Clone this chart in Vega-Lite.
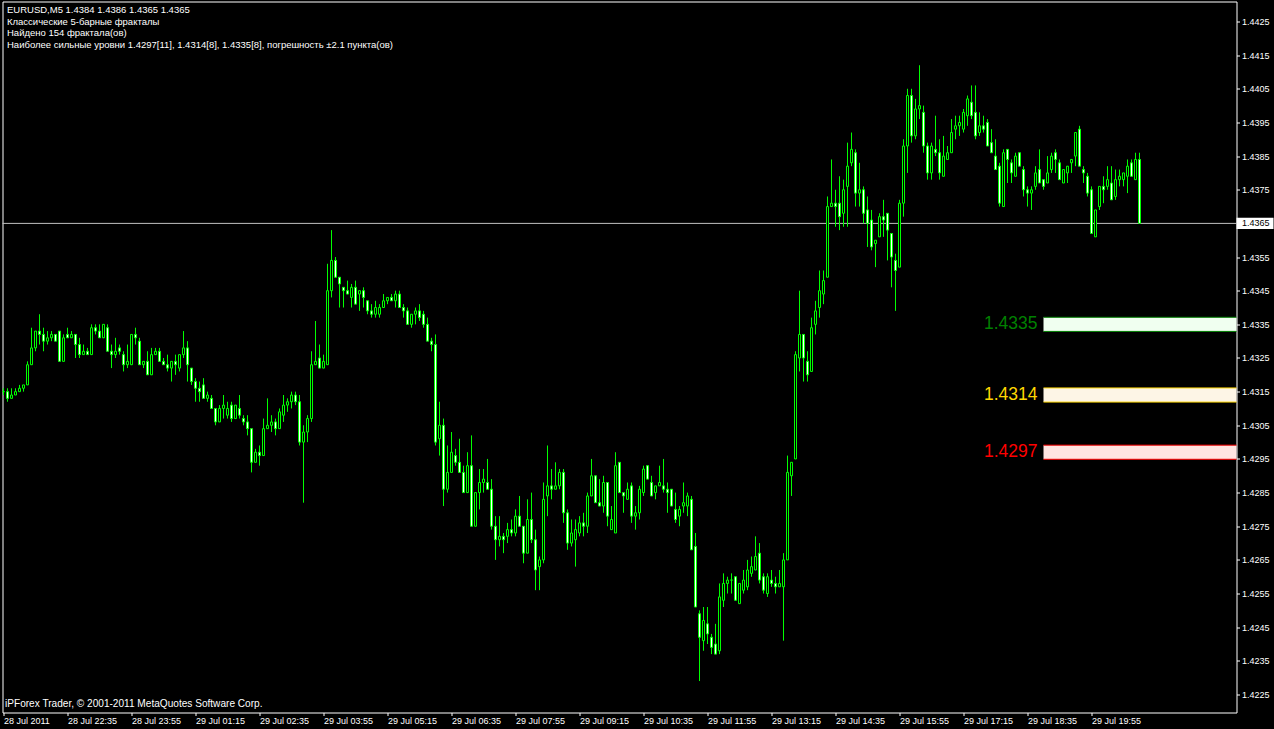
{
"$schema": "https://vega.github.io/schema/vega-lite/v6.json",
"width": 1234, "height": 711,
"autosize": {"type": "none"},
"padding": {"left": 2.5, "top": 1.5, "right": 37.5, "bottom": 16.5},
"background": "#000000",
"config": {"view": {"stroke": "#FFFFFF", "strokeWidth": 1, "fill": "#000000"}, "font": "Liberation Sans", "axis": {"labelOverlap": false}},
"layer": [
{"data": {"values": [{"bid": 1.4365}]},
 "mark": {"type": "rule", "color": "#C0C0C0", "strokeWidth": 1},
 "encoding": {"y": {"field": "bid", "type": "quantitative",
   "scale": {"domain": [1.421965, 1.443094], "zero": false, "nice": false, "padding": 0},
   "axis": {"orient": "right", "values": [1.4225,1.4235,1.4245,1.4255,1.4265,1.4275,1.4285,1.4295,1.4305,1.4315,1.4325,1.4335,1.4345,1.4355,1.4375,1.4385,1.4395,1.4405,1.4415,1.4425],
     "tickCount": 40, "format": ".4f", "domain": false, "grid": false, "tickColor": "#FFFFFF", "tickSize": 3, "labelColor": "#FFFFFF", "labelFont": "Liberation Sans", "labelFontSize": 9, "labelPadding": 2, "labelOverlap": false, "labelFlush": false, "labelBound": false, "title": null}}}},
{"data": {"values": [
  {"name": "1.4335", "level": 1.4335, "lo": 1.43329, "hi": 1.43371, "from": "2011-07-29 18:55", "to": "2011-07-29 23:30"},
  {"name": "1.4314", "level": 1.4314, "lo": 1.43119, "hi": 1.43161, "from": "2011-07-29 18:55", "to": "2011-07-29 23:30"},
  {"name": "1.4297", "level": 1.4297, "lo": 1.42949, "hi": 1.42991, "from": "2011-07-29 18:55", "to": "2011-07-29 23:30"}],
  "format": {"parse": {"from": "utc:'%Y-%m-%d %H:%M'", "to": "utc:'%Y-%m-%d %H:%M'"}}},
 "layer": [
  {"mark": {"type": "rect", "clip": true},
   "encoding": {"x": {"field": "from", "type": "temporal", "scale": {"type": "utc", "padding": 0}}, "x2": {"field": "to"},
     "y": {"field": "lo", "type": "quantitative"}, "y2": {"field": "hi"},
     "fill": {"field": "name", "type": "nominal", "scale": {"domain": ["1.4335", "1.4314", "1.4297"], "range": ["#F0FFF0", "#FDF5E6", "#FFE4E1"]}, "legend": null}}},
  {"transform": [{"fold": ["lo", "hi"], "as": ["edge", "yv"]}],
   "mark": {"type": "rule", "clip": true, "strokeWidth": 1},
   "encoding": {"x": {"field": "from", "type": "temporal", "scale": {"type": "utc", "padding": 0}}, "x2": {"field": "to"},
     "y": {"field": "yv", "type": "quantitative"},
     "color": {"field": "name", "type": "nominal", "scale": {"domain": ["1.4335", "1.4314", "1.4297"], "range": ["#008000", "#FFD700", "#FF0000"]}, "legend": null}}},
  {"mark": {"type": "text", "align": "right", "baseline": "middle", "dx": -6, "fontSize": 17.5, "font": "Liberation Sans"},
   "encoding": {"x": {"field": "from", "type": "temporal", "scale": {"type": "utc", "padding": 0}},
     "y": {"field": "level", "type": "quantitative"},
     "text": {"field": "name"},
     "color": {"field": "name", "type": "nominal", "scale": {"domain": ["1.4335", "1.4314", "1.4297"], "range": ["#008000", "#FFD700", "#FF0000"]}, "legend": null}}}
 ]},
{"data": {"values": [
{"t":"2011-07-28 21:15","o":1.4315,"h":1.4316,"l":1.4314,"c":1.4315},
{"t":"2011-07-28 21:20","o":1.4315,"h":1.4316,"l":1.4312,"c":1.4313},
{"t":"2011-07-28 21:25","o":1.4313,"h":1.4316,"l":1.4313,"c":1.4314},
{"t":"2011-07-28 21:30","o":1.4314,"h":1.4316,"l":1.4314,"c":1.4315},
{"t":"2011-07-28 21:35","o":1.4315,"h":1.4317,"l":1.4315,"c":1.4316},
{"t":"2011-07-28 21:40","o":1.4316,"h":1.4317,"l":1.4315,"c":1.4317},
{"t":"2011-07-28 21:45","o":1.4317,"h":1.4324,"l":1.4317,"c":1.4323},
{"t":"2011-07-28 21:50","o":1.4323,"h":1.4334,"l":1.4323,"c":1.4328},
{"t":"2011-07-28 21:55","o":1.4328,"h":1.4333,"l":1.4327,"c":1.4333},
{"t":"2011-07-28 22:00","o":1.4333,"h":1.4338,"l":1.4329,"c":1.4332},
{"t":"2011-07-28 22:05","o":1.4332,"h":1.4334,"l":1.4327,"c":1.4330},
{"t":"2011-07-28 22:10","o":1.4330,"h":1.4333,"l":1.4329,"c":1.4331},
{"t":"2011-07-28 22:15","o":1.4331,"h":1.4333,"l":1.4330,"c":1.4332},
{"t":"2011-07-28 22:20","o":1.4332,"h":1.4332,"l":1.4330,"c":1.4330},
{"t":"2011-07-28 22:25","o":1.4333,"h":1.4333,"l":1.4324,"c":1.4324},
{"t":"2011-07-28 22:30","o":1.4324,"h":1.4332,"l":1.4324,"c":1.4331},
{"t":"2011-07-28 22:35","o":1.4332,"h":1.4334,"l":1.4331,"c":1.4331},
{"t":"2011-07-28 22:40","o":1.4331,"h":1.4333,"l":1.4331,"c":1.4332},
{"t":"2011-07-28 22:45","o":1.4332,"h":1.4332,"l":1.4325,"c":1.4329},
{"t":"2011-07-28 22:50","o":1.4329,"h":1.4331,"l":1.4325,"c":1.4326},
{"t":"2011-07-28 22:55","o":1.4326,"h":1.4329,"l":1.4326,"c":1.4327},
{"t":"2011-07-28 23:00","o":1.4327,"h":1.4328,"l":1.4326,"c":1.4326},
{"t":"2011-07-28 23:05","o":1.4326,"h":1.4335,"l":1.4326,"c":1.4334},
{"t":"2011-07-28 23:10","o":1.4334,"h":1.4335,"l":1.4332,"c":1.4333},
{"t":"2011-07-28 23:15","o":1.4333,"h":1.4335,"l":1.4331,"c":1.4331},
{"t":"2011-07-28 23:20","o":1.4331,"h":1.4335,"l":1.4331,"c":1.4335},
{"t":"2011-07-28 23:25","o":1.4334,"h":1.4335,"l":1.4327,"c":1.4327},
{"t":"2011-07-28 23:30","o":1.4327,"h":1.4329,"l":1.4322,"c":1.4326},
{"t":"2011-07-28 23:35","o":1.4326,"h":1.4331,"l":1.4325,"c":1.4327},
{"t":"2011-07-28 23:40","o":1.4328,"h":1.4329,"l":1.4326,"c":1.4327},
{"t":"2011-07-28 23:45","o":1.4326,"h":1.4327,"l":1.4321,"c":1.4323},
{"t":"2011-07-28 23:50","o":1.4323,"h":1.4329,"l":1.4322,"c":1.4324},
{"t":"2011-07-28 23:55","o":1.4323,"h":1.4332,"l":1.4323,"c":1.4332},
{"t":"2011-07-29 00:00","o":1.4332,"h":1.4334,"l":1.4329,"c":1.4331},
{"t":"2011-07-29 00:05","o":1.4330,"h":1.4331,"l":1.4323,"c":1.4323},
{"t":"2011-07-29 00:10","o":1.4323,"h":1.4324,"l":1.4322,"c":1.4324},
{"t":"2011-07-29 00:15","o":1.4324,"h":1.4327,"l":1.4320,"c":1.4320},
{"t":"2011-07-29 00:20","o":1.4320,"h":1.4328,"l":1.4320,"c":1.4326},
{"t":"2011-07-29 00:25","o":1.4326,"h":1.4328,"l":1.4326,"c":1.4327},
{"t":"2011-07-29 00:30","o":1.4327,"h":1.4328,"l":1.4324,"c":1.4324},
{"t":"2011-07-29 00:35","o":1.4324,"h":1.4325,"l":1.4323,"c":1.4323},
{"t":"2011-07-29 00:40","o":1.4323,"h":1.4326,"l":1.4321,"c":1.4322},
{"t":"2011-07-29 00:45","o":1.4322,"h":1.4324,"l":1.4318,"c":1.4324},
{"t":"2011-07-29 00:50","o":1.4324,"h":1.4326,"l":1.4320,"c":1.4323},
{"t":"2011-07-29 00:55","o":1.4322,"h":1.4326,"l":1.4321,"c":1.4326},
{"t":"2011-07-29 01:00","o":1.4326,"h":1.4333,"l":1.4325,"c":1.4328},
{"t":"2011-07-29 01:05","o":1.4328,"h":1.4330,"l":1.4318,"c":1.4323},
{"t":"2011-07-29 01:10","o":1.4322,"h":1.4322,"l":1.4317,"c":1.4318},
{"t":"2011-07-29 01:15","o":1.4318,"h":1.4319,"l":1.4312,"c":1.4316},
{"t":"2011-07-29 01:20","o":1.4316,"h":1.4318,"l":1.4312,"c":1.4315},
{"t":"2011-07-29 01:25","o":1.4317,"h":1.4319,"l":1.4313,"c":1.4313},
{"t":"2011-07-29 01:30","o":1.4313,"h":1.4315,"l":1.4312,"c":1.4314},
{"t":"2011-07-29 01:35","o":1.4313,"h":1.4314,"l":1.4310,"c":1.4310},
{"t":"2011-07-29 01:40","o":1.4310,"h":1.4310,"l":1.4305,"c":1.4306},
{"t":"2011-07-29 01:45","o":1.4306,"h":1.4311,"l":1.4306,"c":1.4310},
{"t":"2011-07-29 01:50","o":1.4310,"h":1.4314,"l":1.4307,"c":1.4311},
{"t":"2011-07-29 01:55","o":1.4308,"h":1.4312,"l":1.4307,"c":1.4310},
{"t":"2011-07-29 02:00","o":1.4311,"h":1.4312,"l":1.4306,"c":1.4307},
{"t":"2011-07-29 02:05","o":1.4307,"h":1.4311,"l":1.4307,"c":1.4311},
{"t":"2011-07-29 02:10","o":1.4310,"h":1.4314,"l":1.4307,"c":1.4308},
{"t":"2011-07-29 02:15","o":1.4307,"h":1.4308,"l":1.4305,"c":1.4306},
{"t":"2011-07-29 02:20","o":1.4306,"h":1.4308,"l":1.4302,"c":1.4304},
{"t":"2011-07-29 02:25","o":1.4304,"h":1.4304,"l":1.4291,"c":1.4294},
{"t":"2011-07-29 02:30","o":1.4294,"h":1.4298,"l":1.4294,"c":1.4297},
{"t":"2011-07-29 02:35","o":1.4297,"h":1.4299,"l":1.4293,"c":1.4296},
{"t":"2011-07-29 02:40","o":1.4296,"h":1.4307,"l":1.4296,"c":1.4304},
{"t":"2011-07-29 02:45","o":1.4304,"h":1.4313,"l":1.4304,"c":1.4305},
{"t":"2011-07-29 02:50","o":1.4305,"h":1.4308,"l":1.4303,"c":1.4306},
{"t":"2011-07-29 02:55","o":1.4306,"h":1.4307,"l":1.4302,"c":1.4304},
{"t":"2011-07-29 03:00","o":1.4304,"h":1.4310,"l":1.4304,"c":1.4309},
{"t":"2011-07-29 03:05","o":1.4308,"h":1.4314,"l":1.4306,"c":1.4311},
{"t":"2011-07-29 03:10","o":1.4311,"h":1.4313,"l":1.4309,"c":1.4312},
{"t":"2011-07-29 03:15","o":1.4312,"h":1.4315,"l":1.4310,"c":1.4314},
{"t":"2011-07-29 03:20","o":1.4314,"h":1.4315,"l":1.4311,"c":1.4312},
{"t":"2011-07-29 03:25","o":1.4312,"h":1.4314,"l":1.4299,"c":1.4300},
{"t":"2011-07-29 03:30","o":1.4300,"h":1.4305,"l":1.4282,"c":1.4303},
{"t":"2011-07-29 03:35","o":1.4303,"h":1.4308,"l":1.4300,"c":1.4307},
{"t":"2011-07-29 03:40","o":1.4307,"h":1.4327,"l":1.4306,"c":1.4323},
{"t":"2011-07-29 03:45","o":1.4323,"h":1.4336,"l":1.4323,"c":1.4324},
{"t":"2011-07-29 03:50","o":1.4325,"h":1.4329,"l":1.4322,"c":1.4322},
{"t":"2011-07-29 03:55","o":1.4322,"h":1.4326,"l":1.4322,"c":1.4324},
{"t":"2011-07-29 04:00","o":1.4323,"h":1.4353,"l":1.4323,"c":1.4345},
{"t":"2011-07-29 04:05","o":1.4345,"h":1.4363,"l":1.4343,"c":1.4354},
{"t":"2011-07-29 04:10","o":1.4354,"h":1.4355,"l":1.4349,"c":1.4349},
{"t":"2011-07-29 04:15","o":1.4349,"h":1.4349,"l":1.4340,"c":1.4347},
{"t":"2011-07-29 04:20","o":1.4346,"h":1.4346,"l":1.4340,"c":1.4345},
{"t":"2011-07-29 04:25","o":1.4345,"h":1.4348,"l":1.4344,"c":1.4344},
{"t":"2011-07-29 04:30","o":1.4343,"h":1.4347,"l":1.4340,"c":1.4346},
{"t":"2011-07-29 04:35","o":1.4346,"h":1.4348,"l":1.4341,"c":1.4341},
{"t":"2011-07-29 04:40","o":1.4344,"h":1.4345,"l":1.4339,"c":1.4345},
{"t":"2011-07-29 04:45","o":1.4345,"h":1.4346,"l":1.4340,"c":1.4343},
{"t":"2011-07-29 04:50","o":1.4342,"h":1.4342,"l":1.4338,"c":1.4339},
{"t":"2011-07-29 04:55","o":1.4339,"h":1.4341,"l":1.4337,"c":1.4338},
{"t":"2011-07-29 05:00","o":1.4338,"h":1.4342,"l":1.4337,"c":1.4340},
{"t":"2011-07-29 05:05","o":1.4338,"h":1.4341,"l":1.4337,"c":1.4340},
{"t":"2011-07-29 05:10","o":1.4340,"h":1.4344,"l":1.4340,"c":1.4342},
{"t":"2011-07-29 05:15","o":1.4342,"h":1.4343,"l":1.4341,"c":1.4343},
{"t":"2011-07-29 05:20","o":1.4343,"h":1.4344,"l":1.4342,"c":1.4342},
{"t":"2011-07-29 05:25","o":1.4342,"h":1.4345,"l":1.4340,"c":1.4344},
{"t":"2011-07-29 05:30","o":1.4344,"h":1.4345,"l":1.4340,"c":1.4340},
{"t":"2011-07-29 05:35","o":1.4340,"h":1.4341,"l":1.4337,"c":1.4339},
{"t":"2011-07-29 05:40","o":1.4339,"h":1.4340,"l":1.4335,"c":1.4335},
{"t":"2011-07-29 05:45","o":1.4335,"h":1.4338,"l":1.4334,"c":1.4338},
{"t":"2011-07-29 05:50","o":1.4338,"h":1.4340,"l":1.4335,"c":1.4339},
{"t":"2011-07-29 05:55","o":1.4339,"h":1.4341,"l":1.4336,"c":1.4337},
{"t":"2011-07-29 06:00","o":1.4338,"h":1.4339,"l":1.4334,"c":1.4335},
{"t":"2011-07-29 06:05","o":1.4335,"h":1.4337,"l":1.4330,"c":1.4330},
{"t":"2011-07-29 06:10","o":1.4330,"h":1.4331,"l":1.4327,"c":1.4329},
{"t":"2011-07-29 06:15","o":1.4329,"h":1.4332,"l":1.4299,"c":1.4300},
{"t":"2011-07-29 06:20","o":1.4301,"h":1.4312,"l":1.4296,"c":1.4305},
{"t":"2011-07-29 06:25","o":1.4305,"h":1.4307,"l":1.4281,"c":1.4286},
{"t":"2011-07-29 06:30","o":1.4286,"h":1.4299,"l":1.4285,"c":1.4291},
{"t":"2011-07-29 06:35","o":1.4291,"h":1.4303,"l":1.4291,"c":1.4297},
{"t":"2011-07-29 06:40","o":1.4296,"h":1.4298,"l":1.4293,"c":1.4294},
{"t":"2011-07-29 06:45","o":1.4294,"h":1.4301,"l":1.4291,"c":1.4291},
{"t":"2011-07-29 06:50","o":1.4291,"h":1.4293,"l":1.4285,"c":1.4285},
{"t":"2011-07-29 06:55","o":1.4285,"h":1.4297,"l":1.4285,"c":1.4293},
{"t":"2011-07-29 07:00","o":1.4293,"h":1.4302,"l":1.4275,"c":1.4275},
{"t":"2011-07-29 07:05","o":1.4275,"h":1.4285,"l":1.4275,"c":1.4285},
{"t":"2011-07-29 07:10","o":1.4285,"h":1.4292,"l":1.4280,"c":1.4288},
{"t":"2011-07-29 07:15","o":1.4288,"h":1.4292,"l":1.4285,"c":1.4289},
{"t":"2011-07-29 07:20","o":1.4288,"h":1.4295,"l":1.4286,"c":1.4286},
{"t":"2011-07-29 07:25","o":1.4286,"h":1.4289,"l":1.4274,"c":1.4275},
{"t":"2011-07-29 07:30","o":1.4275,"h":1.4278,"l":1.4265,"c":1.4271},
{"t":"2011-07-29 07:35","o":1.4271,"h":1.4278,"l":1.4269,"c":1.4272},
{"t":"2011-07-29 07:40","o":1.4272,"h":1.4273,"l":1.4267,"c":1.4271},
{"t":"2011-07-29 07:45","o":1.4272,"h":1.4276,"l":1.4270,"c":1.4274},
{"t":"2011-07-29 07:50","o":1.4274,"h":1.4277,"l":1.4272,"c":1.4273},
{"t":"2011-07-29 07:55","o":1.4273,"h":1.4280,"l":1.4272,"c":1.4278},
{"t":"2011-07-29 08:00","o":1.4278,"h":1.4284,"l":1.4275,"c":1.4275},
{"t":"2011-07-29 08:05","o":1.4275,"h":1.4275,"l":1.4264,"c":1.4267},
{"t":"2011-07-29 08:10","o":1.4267,"h":1.4283,"l":1.4267,"c":1.4277},
{"t":"2011-07-29 08:15","o":1.4277,"h":1.4285,"l":1.4270,"c":1.4271},
{"t":"2011-07-29 08:20","o":1.4271,"h":1.4274,"l":1.4256,"c":1.4262},
{"t":"2011-07-29 08:25","o":1.4263,"h":1.4266,"l":1.4256,"c":1.4265},
{"t":"2011-07-29 08:30","o":1.4265,"h":1.4288,"l":1.4264,"c":1.4283},
{"t":"2011-07-29 08:35","o":1.4284,"h":1.4299,"l":1.4278,"c":1.4287},
{"t":"2011-07-29 08:40","o":1.4287,"h":1.4292,"l":1.4283,"c":1.4286},
{"t":"2011-07-29 08:45","o":1.4286,"h":1.4294,"l":1.4286,"c":1.4287},
{"t":"2011-07-29 08:50","o":1.4287,"h":1.4292,"l":1.4286,"c":1.4291},
{"t":"2011-07-29 08:55","o":1.4291,"h":1.4292,"l":1.4276,"c":1.4279},
{"t":"2011-07-29 09:00","o":1.4279,"h":1.4280,"l":1.4268,"c":1.4270},
{"t":"2011-07-29 09:05","o":1.4270,"h":1.4277,"l":1.4269,"c":1.4273},
{"t":"2011-07-29 09:10","o":1.4271,"h":1.4277,"l":1.4263,"c":1.4274},
{"t":"2011-07-29 09:15","o":1.4273,"h":1.4278,"l":1.4272,"c":1.4276},
{"t":"2011-07-29 09:20","o":1.4276,"h":1.4279,"l":1.4272,"c":1.4275},
{"t":"2011-07-29 09:25","o":1.4275,"h":1.4285,"l":1.4273,"c":1.4284},
{"t":"2011-07-29 09:30","o":1.4284,"h":1.4295,"l":1.4284,"c":1.4290},
{"t":"2011-07-29 09:35","o":1.4290,"h":1.4290,"l":1.4282,"c":1.4282},
{"t":"2011-07-29 09:40","o":1.4282,"h":1.4289,"l":1.4281,"c":1.4281},
{"t":"2011-07-29 09:45","o":1.4281,"h":1.4290,"l":1.4279,"c":1.4288},
{"t":"2011-07-29 09:50","o":1.4288,"h":1.4288,"l":1.4275,"c":1.4278},
{"t":"2011-07-29 09:55","o":1.4274,"h":1.4281,"l":1.4274,"c":1.4277},
{"t":"2011-07-29 10:00","o":1.4273,"h":1.4297,"l":1.4273,"c":1.4293},
{"t":"2011-07-29 10:05","o":1.4294,"h":1.4294,"l":1.4285,"c":1.4285},
{"t":"2011-07-29 10:10","o":1.4285,"h":1.4285,"l":1.4279,"c":1.4284},
{"t":"2011-07-29 10:15","o":1.4283,"h":1.4288,"l":1.4283,"c":1.4286},
{"t":"2011-07-29 10:20","o":1.4287,"h":1.4288,"l":1.4276,"c":1.4278},
{"t":"2011-07-29 10:25","o":1.4278,"h":1.4281,"l":1.4274,"c":1.4279},
{"t":"2011-07-29 10:30","o":1.4279,"h":1.4287,"l":1.4277,"c":1.4286},
{"t":"2011-07-29 10:35","o":1.4285,"h":1.4293,"l":1.4284,"c":1.4292},
{"t":"2011-07-29 10:40","o":1.4293,"h":1.4293,"l":1.4289,"c":1.4289},
{"t":"2011-07-29 10:45","o":1.4288,"h":1.4290,"l":1.4284,"c":1.4284},
{"t":"2011-07-29 10:50","o":1.4285,"h":1.4287,"l":1.4283,"c":1.4287},
{"t":"2011-07-29 10:55","o":1.4287,"h":1.4293,"l":1.4287,"c":1.4288},
{"t":"2011-07-29 11:00","o":1.4287,"h":1.4295,"l":1.4285,"c":1.4286},
{"t":"2011-07-29 11:05","o":1.4286,"h":1.4288,"l":1.4279,"c":1.4285},
{"t":"2011-07-29 11:10","o":1.4286,"h":1.4286,"l":1.4281,"c":1.4281},
{"t":"2011-07-29 11:15","o":1.4280,"h":1.4285,"l":1.4276,"c":1.4277},
{"t":"2011-07-29 11:20","o":1.4278,"h":1.4281,"l":1.4275,"c":1.4280},
{"t":"2011-07-29 11:25","o":1.4281,"h":1.4288,"l":1.4279,"c":1.4282},
{"t":"2011-07-29 11:30","o":1.4281,"h":1.4285,"l":1.4278,"c":1.4284},
{"t":"2011-07-29 11:35","o":1.4283,"h":1.4284,"l":1.4268,"c":1.4268},
{"t":"2011-07-29 11:40","o":1.4269,"h":1.4273,"l":1.4251,"c":1.4251},
{"t":"2011-07-29 11:45","o":1.4249,"h":1.4250,"l":1.4229,"c":1.4242},
{"t":"2011-07-29 11:50","o":1.4241,"h":1.4251,"l":1.4238,"c":1.4247},
{"t":"2011-07-29 11:55","o":1.4246,"h":1.4251,"l":1.4240,"c":1.4243},
{"t":"2011-07-29 12:00","o":1.4242,"h":1.4243,"l":1.4237,"c":1.4239},
{"t":"2011-07-29 12:05","o":1.4240,"h":1.4246,"l":1.4237,"c":1.4237},
{"t":"2011-07-29 12:10","o":1.4238,"h":1.4258,"l":1.4237,"c":1.4254},
{"t":"2011-07-29 12:15","o":1.4253,"h":1.4261,"l":1.4251,"c":1.4258},
{"t":"2011-07-29 12:20","o":1.4258,"h":1.4260,"l":1.4255,"c":1.4259},
{"t":"2011-07-29 12:25","o":1.4259,"h":1.4261,"l":1.4255,"c":1.4259},
{"t":"2011-07-29 12:30","o":1.4260,"h":1.4260,"l":1.4253,"c":1.4253},
{"t":"2011-07-29 12:35","o":1.4252,"h":1.4258,"l":1.4252,"c":1.4258},
{"t":"2011-07-29 12:40","o":1.4256,"h":1.4262,"l":1.4255,"c":1.4259},
{"t":"2011-07-29 12:45","o":1.4257,"h":1.4265,"l":1.4256,"c":1.4262},
{"t":"2011-07-29 12:50","o":1.4261,"h":1.4266,"l":1.4260,"c":1.4263},
{"t":"2011-07-29 12:55","o":1.4262,"h":1.4272,"l":1.4262,"c":1.4266},
{"t":"2011-07-29 13:00","o":1.4267,"h":1.4270,"l":1.4258,"c":1.4259},
{"t":"2011-07-29 13:05","o":1.4260,"h":1.4261,"l":1.4255,"c":1.4256},
{"t":"2011-07-29 13:10","o":1.4255,"h":1.4261,"l":1.4254,"c":1.4260},
{"t":"2011-07-29 13:15","o":1.4259,"h":1.4262,"l":1.4257,"c":1.4258},
{"t":"2011-07-29 13:20","o":1.4258,"h":1.4260,"l":1.4255,"c":1.4257},
{"t":"2011-07-29 13:25","o":1.4257,"h":1.4262,"l":1.4257,"c":1.4258},
{"t":"2011-07-29 13:30","o":1.4257,"h":1.4267,"l":1.4241,"c":1.4265},
{"t":"2011-07-29 13:35","o":1.4265,"h":1.4296,"l":1.4265,"c":1.4291},
{"t":"2011-07-29 13:40","o":1.4290,"h":1.4294,"l":1.4284,"c":1.4294},
{"t":"2011-07-29 13:45","o":1.4295,"h":1.4327,"l":1.4295,"c":1.4326},
{"t":"2011-07-29 13:50","o":1.4325,"h":1.4345,"l":1.4321,"c":1.4332},
{"t":"2011-07-29 13:55","o":1.4332,"h":1.4332,"l":1.4318,"c":1.4325},
{"t":"2011-07-29 14:00","o":1.4324,"h":1.4327,"l":1.4318,"c":1.4320},
{"t":"2011-07-29 14:05","o":1.4321,"h":1.4337,"l":1.4321,"c":1.4334},
{"t":"2011-07-29 14:10","o":1.4335,"h":1.4342,"l":1.4332,"c":1.4339},
{"t":"2011-07-29 14:15","o":1.4340,"h":1.4351,"l":1.4337,"c":1.4345},
{"t":"2011-07-29 14:20","o":1.4344,"h":1.4351,"l":1.4341,"c":1.4348},
{"t":"2011-07-29 14:25","o":1.4349,"h":1.4373,"l":1.4349,"c":1.4370},
{"t":"2011-07-29 14:30","o":1.4370,"h":1.4384,"l":1.4370,"c":1.4371},
{"t":"2011-07-29 14:35","o":1.4371,"h":1.4375,"l":1.4364,"c":1.4370},
{"t":"2011-07-29 14:40","o":1.4371,"h":1.4379,"l":1.4363,"c":1.4367},
{"t":"2011-07-29 14:45","o":1.4368,"h":1.4378,"l":1.4364,"c":1.4375},
{"t":"2011-07-29 14:50","o":1.4376,"h":1.4389,"l":1.4364,"c":1.4382},
{"t":"2011-07-29 14:55","o":1.4383,"h":1.4392,"l":1.4382,"c":1.4387},
{"t":"2011-07-29 15:00","o":1.4386,"h":1.4387,"l":1.4370,"c":1.4374},
{"t":"2011-07-29 15:05","o":1.4374,"h":1.4383,"l":1.4370,"c":1.4375},
{"t":"2011-07-29 15:10","o":1.4375,"h":1.4376,"l":1.4365,"c":1.4368},
{"t":"2011-07-29 15:15","o":1.4369,"h":1.4373,"l":1.4358,"c":1.4365},
{"t":"2011-07-29 15:20","o":1.4366,"h":1.4369,"l":1.4357,"c":1.4358},
{"t":"2011-07-29 15:25","o":1.4359,"h":1.4360,"l":1.4352,"c":1.4360},
{"t":"2011-07-29 15:30","o":1.4361,"h":1.4368,"l":1.4361,"c":1.4367},
{"t":"2011-07-29 15:35","o":1.4367,"h":1.4372,"l":1.4361,"c":1.4366},
{"t":"2011-07-29 15:40","o":1.4368,"h":1.4368,"l":1.4354,"c":1.4363},
{"t":"2011-07-29 15:45","o":1.4362,"h":1.4362,"l":1.4346,"c":1.4355},
{"t":"2011-07-29 15:50","o":1.4354,"h":1.4356,"l":1.4339,"c":1.4351},
{"t":"2011-07-29 15:55","o":1.4352,"h":1.4372,"l":1.4352,"c":1.4371},
{"t":"2011-07-29 16:00","o":1.4371,"h":1.4390,"l":1.4367,"c":1.4388},
{"t":"2011-07-29 16:05","o":1.4388,"h":1.4405,"l":1.4380,"c":1.4403},
{"t":"2011-07-29 16:10","o":1.4403,"h":1.4405,"l":1.4389,"c":1.4391},
{"t":"2011-07-29 16:15","o":1.4391,"h":1.4402,"l":1.4390,"c":1.4399},
{"t":"2011-07-29 16:20","o":1.4399,"h":1.4412,"l":1.4396,"c":1.4400},
{"t":"2011-07-29 16:25","o":1.4398,"h":1.4400,"l":1.4386,"c":1.4388},
{"t":"2011-07-29 16:30","o":1.4388,"h":1.4389,"l":1.4378,"c":1.4380},
{"t":"2011-07-29 16:35","o":1.4380,"h":1.4389,"l":1.4378,"c":1.4388},
{"t":"2011-07-29 16:40","o":1.4387,"h":1.4397,"l":1.4385,"c":1.4386},
{"t":"2011-07-29 16:45","o":1.4386,"h":1.4390,"l":1.4378,"c":1.4380},
{"t":"2011-07-29 16:50","o":1.4379,"h":1.4391,"l":1.4379,"c":1.4385},
{"t":"2011-07-29 16:55","o":1.4384,"h":1.4388,"l":1.4384,"c":1.4386},
{"t":"2011-07-29 17:00","o":1.4386,"h":1.4396,"l":1.4386,"c":1.4392},
{"t":"2011-07-29 17:05","o":1.4393,"h":1.4397,"l":1.4390,"c":1.4394},
{"t":"2011-07-29 17:10","o":1.4394,"h":1.4397,"l":1.4391,"c":1.4395},
{"t":"2011-07-29 17:15","o":1.4393,"h":1.4399,"l":1.4392,"c":1.4398},
{"t":"2011-07-29 17:20","o":1.4397,"h":1.4403,"l":1.4394,"c":1.4402},
{"t":"2011-07-29 17:25","o":1.4401,"h":1.4406,"l":1.4396,"c":1.4397},
{"t":"2011-07-29 17:30","o":1.4398,"h":1.4406,"l":1.4390,"c":1.4391},
{"t":"2011-07-29 17:35","o":1.4392,"h":1.4398,"l":1.4391,"c":1.4394},
{"t":"2011-07-29 17:40","o":1.4394,"h":1.4397,"l":1.4392,"c":1.4393},
{"t":"2011-07-29 17:45","o":1.4395,"h":1.4396,"l":1.4388,"c":1.4388},
{"t":"2011-07-29 17:50","o":1.4389,"h":1.4393,"l":1.4386,"c":1.4386},
{"t":"2011-07-29 17:55","o":1.4385,"h":1.4390,"l":1.4381,"c":1.4381},
{"t":"2011-07-29 18:00","o":1.4382,"h":1.4383,"l":1.4370,"c":1.4371},
{"t":"2011-07-29 18:05","o":1.4370,"h":1.4387,"l":1.4370,"c":1.4386},
{"t":"2011-07-29 18:10","o":1.4387,"h":1.4387,"l":1.4377,"c":1.4384},
{"t":"2011-07-29 18:15","o":1.4383,"h":1.4384,"l":1.4377,"c":1.4380},
{"t":"2011-07-29 18:20","o":1.4379,"h":1.4386,"l":1.4379,"c":1.4385},
{"t":"2011-07-29 18:25","o":1.4386,"h":1.4386,"l":1.4382,"c":1.4382},
{"t":"2011-07-29 18:30","o":1.4381,"h":1.4382,"l":1.4373,"c":1.4375},
{"t":"2011-07-29 18:35","o":1.4375,"h":1.4376,"l":1.4370,"c":1.4374},
{"t":"2011-07-29 18:40","o":1.4374,"h":1.4376,"l":1.4369,"c":1.4375},
{"t":"2011-07-29 18:45","o":1.4376,"h":1.4382,"l":1.4375,"c":1.4380},
{"t":"2011-07-29 18:50","o":1.4381,"h":1.4387,"l":1.4377,"c":1.4377},
{"t":"2011-07-29 18:55","o":1.4378,"h":1.4378,"l":1.4375,"c":1.4376},
{"t":"2011-07-29 19:00","o":1.4377,"h":1.4385,"l":1.4377,"c":1.4380},
{"t":"2011-07-29 19:05","o":1.4381,"h":1.4386,"l":1.4380,"c":1.4385},
{"t":"2011-07-29 19:10","o":1.4386,"h":1.4387,"l":1.4380,"c":1.4384},
{"t":"2011-07-29 19:15","o":1.4383,"h":1.4384,"l":1.4378,"c":1.4378},
{"t":"2011-07-29 19:20","o":1.4377,"h":1.4381,"l":1.4377,"c":1.4381},
{"t":"2011-07-29 19:25","o":1.4380,"h":1.4382,"l":1.4377,"c":1.4382},
{"t":"2011-07-29 19:30","o":1.4383,"h":1.4384,"l":1.4380,"c":1.4384},
{"t":"2011-07-29 19:35","o":1.4385,"h":1.4392,"l":1.4382,"c":1.4392},
{"t":"2011-07-29 19:40","o":1.4393,"h":1.4394,"l":1.4382,"c":1.4382},
{"t":"2011-07-29 19:45","o":1.4381,"h":1.4382,"l":1.4377,"c":1.4380},
{"t":"2011-07-29 19:50","o":1.4379,"h":1.4380,"l":1.4373,"c":1.4374},
{"t":"2011-07-29 19:55","o":1.4375,"h":1.4376,"l":1.4362,"c":1.4362},
{"t":"2011-07-29 20:00","o":1.4361,"h":1.4369,"l":1.4361,"c":1.4369},
{"t":"2011-07-29 20:05","o":1.4370,"h":1.4376,"l":1.4369,"c":1.4376},
{"t":"2011-07-29 20:10","o":1.4376,"h":1.4379,"l":1.4371,"c":1.4375},
{"t":"2011-07-29 20:15","o":1.4376,"h":1.4382,"l":1.4375,"c":1.4378},
{"t":"2011-07-29 20:20","o":1.4377,"h":1.4382,"l":1.4372,"c":1.4372},
{"t":"2011-07-29 20:25","o":1.4373,"h":1.4381,"l":1.4372,"c":1.4378},
{"t":"2011-07-29 20:30","o":1.4378,"h":1.4381,"l":1.4376,"c":1.4379},
{"t":"2011-07-29 20:35","o":1.4378,"h":1.4380,"l":1.4376,"c":1.4380},
{"t":"2011-07-29 20:40","o":1.4379,"h":1.4384,"l":1.4374,"c":1.4382},
{"t":"2011-07-29 20:45","o":1.4383,"h":1.4384,"l":1.4379,"c":1.4379},
{"t":"2011-07-29 20:50","o":1.4378,"h":1.4386,"l":1.4378,"c":1.4384},
{"t":"2011-07-29 20:55","o":1.4384,"h":1.4386,"l":1.4365,"c":1.4365}
 ], "format": {"parse": {"t": "utc:'%Y-%m-%d %H:%M'"}}},
 "layer": [
  {"mark": {"type": "rule", "color": "#00FF00", "strokeWidth": 1},
   "encoding": {"x": {"field": "t", "type": "temporal",
       "scale": {"type": "utc", "padding": 0, "nice": false, "domain": [{"year": 2011, "month": "Jul", "date": 28, "hours": 21, "minutes": 13, "seconds": 45, "utc": true}, {"year": 2011, "month": "Jul", "date": 29, "hours": 22, "minutes": 56, "seconds": 15, "utc": true}]},
       "axis": {"orient": "bottom", "values": [1311887700000,1311892500000,1311897300000,1311902100000,1311906900000,1311911700000,1311916500000,1311921300000,1311926100000,1311930900000,1311935700000,1311940500000,1311945300000,1311950100000,1311954900000,1311959700000,1311964500000,1311969300000],
         "tickCount": 40, "labelExpr": "time(datum.value) < 1311888000000 ? '28 Jul 2011' : utcFormat(datum.value, '%d %b %H:%M')",
         "domain": false, "grid": false, "tickColor": "#FFFFFF", "tickSize": 3, "labelColor": "#FFFFFF", "labelFont": "Liberation Sans", "labelFontSize": 9, "labelAlign": "left", "labelPadding": 1, "labelOverlap": false, "labelFlush": false, "labelBound": false, "title": null}},
     "y": {"field": "l", "type": "quantitative"}, "y2": {"field": "h"}}},
  {"mark": {"type": "bar", "width": 2, "stroke": "#00FF00", "strokeWidth": 1},
   "encoding": {"x": {"field": "t", "type": "temporal", "scale": {"type": "utc", "padding": 0}},
     "y": {"field": "o", "type": "quantitative"}, "y2": {"field": "c"},
     "fill": {"condition": {"test": "datum.c >= datum.o", "value": "#000000"}, "value": "#FFFFFF"}}}
 ]},
{"data": {"values": [{"txt": "EURUSD,M5  1.4384 1.4386 1.4365 1.4365\nКлассические 5-барные фракталы\nНайдено 154 фрактала(ов)\nНаиболее сильные уровни 1.4297[11], 1.4314[8], 1.4335[8], погрешность ±2.1 пункта(ов)"}]},
 "mark": {"type": "text", "align": "left", "baseline": "top", "lineBreak": "\n", "lineHeight": 11.5, "color": "#FFFFFF", "font": "Liberation Sans", "fontSize": 9.5, "dx": 4.5, "dy": 3.5},
 "encoding": {"text": {"field": "txt"},
   "x": {"datum": {"year": 2011, "month": "Jul", "date": 28, "hours": 21, "minutes": 13, "seconds": 45, "utc": true}, "type": "temporal", "scale": {"type": "utc", "padding": 0}},
   "y": {"datum": 1.443094, "type": "quantitative"}}},
{"data": {"values": [{"txt": "iPForex Trader, © 2001-2011 MetaQuotes Software Corp."}]},
 "mark": {"type": "text", "align": "left", "baseline": "bottom", "color": "#FFFFFF", "font": "Liberation Sans", "fontSize": 10.1, "dx": 2.5, "dy": -4},
 "encoding": {"text": {"field": "txt"},
   "x": {"datum": {"year": 2011, "month": "Jul", "date": 28, "hours": 21, "minutes": 13, "seconds": 45, "utc": true}, "type": "temporal", "scale": {"type": "utc", "padding": 0}},
   "y": {"datum": 1.421965, "type": "quantitative"}}},
{"data": {"values": [{"bid": 1.4365, "txt": "1.4365"}]},
 "layer": [
  {"mark": {"type": "point", "shape": "M0,-0.3H2V0.3H0Z", "size": 1369, "filled": true, "color": "#FFFFFF", "opacity": 1, "strokeWidth": 0},
   "encoding": {"x": {"datum": {"year": 2011, "month": "Jul", "date": 29, "hours": 22, "minutes": 56, "seconds": 15, "utc": true}, "type": "temporal", "scale": {"type": "utc", "padding": 0}},
     "y": {"field": "bid", "type": "quantitative"}}},
  {"mark": {"type": "text", "align": "left", "baseline": "middle", "color": "#000000", "font": "Liberation Sans", "fontSize": 9, "dx": 5.5},
   "encoding": {"text": {"field": "txt"},
     "x": {"datum": {"year": 2011, "month": "Jul", "date": 29, "hours": 22, "minutes": 56, "seconds": 15, "utc": true}, "type": "temporal", "scale": {"type": "utc", "padding": 0}},
     "y": {"field": "bid", "type": "quantitative"}}}
 ]}
]
}
